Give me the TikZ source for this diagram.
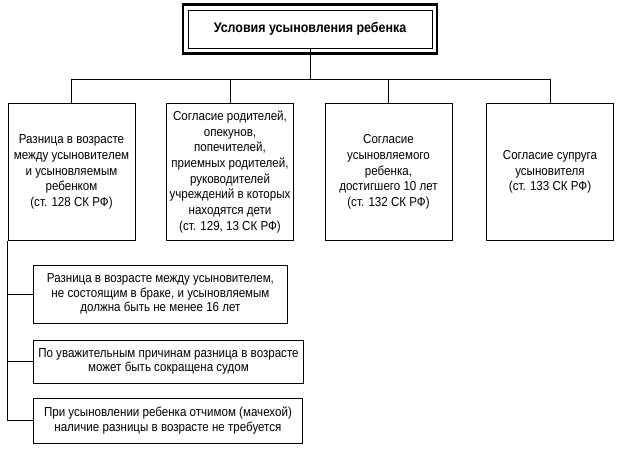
\documentclass[tikz,border=0pt]{standalone}
\usepackage{fontspec}
\setmainfont{Liberation Sans}[FakeStretch=0.89]
\begin{document}
\begin{tikzpicture}[x=1pt,y=-1pt,
	every node/.style={draw,line width=0.9pt,align=center,inner sep=2pt,
		font=\fontsize{13}{15.7}\selectfont},
	cond/.style={minimum width=127pt,minimum height=137pt,anchor=north},
	rule/.style={anchor=west,font=\fontsize{13}{14.5}\selectfont},
	link/.style={line width=0.9pt}]
\useasboundingbox (0,0) rectangle (617,455);
\node[font=\bfseries\fontsize{14}{16}\selectfont,minimum width=244pt,minimum height=38pt] (title) at (310,29) {Условия усыновления ребенка};
\draw[line width=2.5pt] ([shift={(-4.5pt,5pt)}]title.north west) rectangle ([shift={(4.5pt,-5pt)}]title.south east);
\node[cond] (age) at (71.5,103) {Разница в возрасте\\между усыновителем\\и усыновляемым\\ребенком\\(ст. 128 СК РФ)};
\node[cond] (parents) at (230,103) {Согласие родителей,\\опекунов,\\попечителей,\\приемных родителей,\\руководителей\\учреждений в которых\\находятся дети\\(ст. 129, 13 СК РФ)};
\node[cond] (child) at (388.5,103) {Согласие\\усыновляемого\\ребенка,\\достигшего 10 лет\\(ст. 132 СК РФ)};
\node[cond] (spouse) at (550,103) {Согласие супруга\\усыновителя\\(ст. 133 СК РФ)};
\node[rule,minimum width=254pt,minimum height=58pt] (single) at (33,294) {Разница в возрасте между усыновителем,\\не состоящим в браке, и усыновляемым\\должна быть не менее 16 лет};
\node[rule,minimum width=270pt,minimum height=43pt] (court) at (33,361.5) {По уважительным причинам разница в возрасте\\может быть сокращена судом};
\node[rule,minimum width=269pt,minimum height=45pt] (step) at (33,420.5) {При усыновлении ребенка отчимом (мачехой)\\наличие разницы в возрасте не требуется};
% соединения
\coordinate (fork) at (310,79);
\draw[link] (title.south) -- (fork);
\foreach \n in {age,parents,child,spouse}
	\draw[link] (fork) -| (\n.north);
\foreach \n in {single,court,step}
	\draw[link] (age.south west) |- (\n.west);
\end{tikzpicture}
\end{document}
